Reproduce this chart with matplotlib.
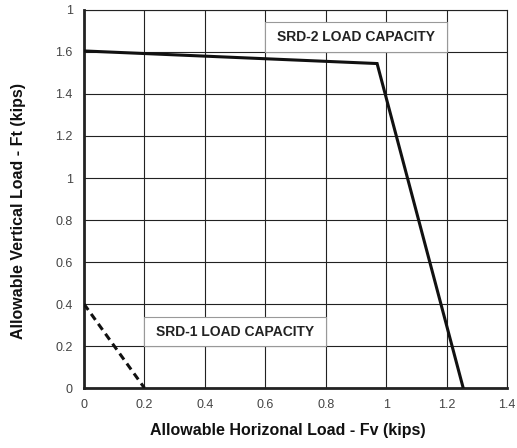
import matplotlib
matplotlib.use('Agg')
import matplotlib.pyplot as plt

# SRD-2 capacity envelope
srd2_x = [0.0, 0.97, 1.255]
srd2_y = [1.605, 1.545, 0.0]
# SRD-1 capacity envelope
srd1_x = [0.0, 0.2]
srd1_y = [0.4, 0.0]

x_ticks = [0, 0.2, 0.4, 0.6, 0.8, 1.0, 1.2, 1.4]
x_labels = ['0', '0.2', '0.4', '0.6', '0.8', '1', '1.2', '1.4']
y_ticks = [0, 0.2, 0.4, 0.6, 0.8, 1.0, 1.2, 1.4, 1.6, 1.8]
y_labels = ['0', '0.2', '0.4', '0.6', '0.8', '1', '1.2', '1.4', '1.6', '1']

plt.rcParams['font.family'] = ['Liberation Sans', 'DejaVu Sans']

fig = plt.figure(figsize=(5.17, 4.48), dpi=100)
ax = fig.add_axes([0.1625, 0.1339, 0.8182, 0.8438])

ax.set_xlim(0, 1.4)
ax.set_ylim(0, 1.8)
ax.set_xticks(x_ticks)
ax.set_xticklabels(x_labels)
ax.set_yticks(y_ticks)
ax.set_yticklabels(y_labels)
ax.tick_params(length=0, labelsize=9, colors='#444444', pad=8)
ax.grid(True, color='#222222', linewidth=0.8)
ax.set_axisbelow(True)

for side in ['top', 'right']:
    ax.spines[side].set_linewidth(0.8)
    ax.spines[side].set_color('#222222')
for side in ['left', 'bottom']:
    ax.spines[side].set_linewidth(2.0)
    ax.spines[side].set_color('#222222')

ax.plot(srd2_x, srd2_y, color='#111111', linewidth=2.2, solid_joinstyle='miter', zorder=3)
ax.plot(srd1_x, srd1_y, color='#111111', linewidth=2.2, linestyle=(0, (2.4, 1.6)), zorder=3)

ax.fill_between([0.6, 1.2], 1.6, 1.745, facecolor='white', edgecolor='#999999', linewidth=0.8, zorder=2)
ax.text(0.9, 1.672, 'SRD-2 LOAD CAPACITY', ha='center', va='center', fontsize=10,
        fontweight='bold', color='#222222', zorder=4)
ax.fill_between([0.2, 0.8], 0.2, 0.338, facecolor='white', edgecolor='#999999', linewidth=0.8, zorder=2)
ax.text(0.5, 0.269, 'SRD-1 LOAD CAPACITY', ha='center', va='center', fontsize=10,
        fontweight='bold', color='#222222', zorder=4)

fig.text(0.557, 0.04, 'Allowable Horizonal Load - Fv (kips)', ha='center', va='center',
         fontsize=11.5, fontweight='bold', color='#111111')
fig.text(0.036, 0.53, 'Allowable Vertical Load - Ft (kips)', ha='center', va='center',
         rotation=90, fontsize=11.5, fontweight='bold', color='#111111')

fig.savefig('out.png', dpi=100)
